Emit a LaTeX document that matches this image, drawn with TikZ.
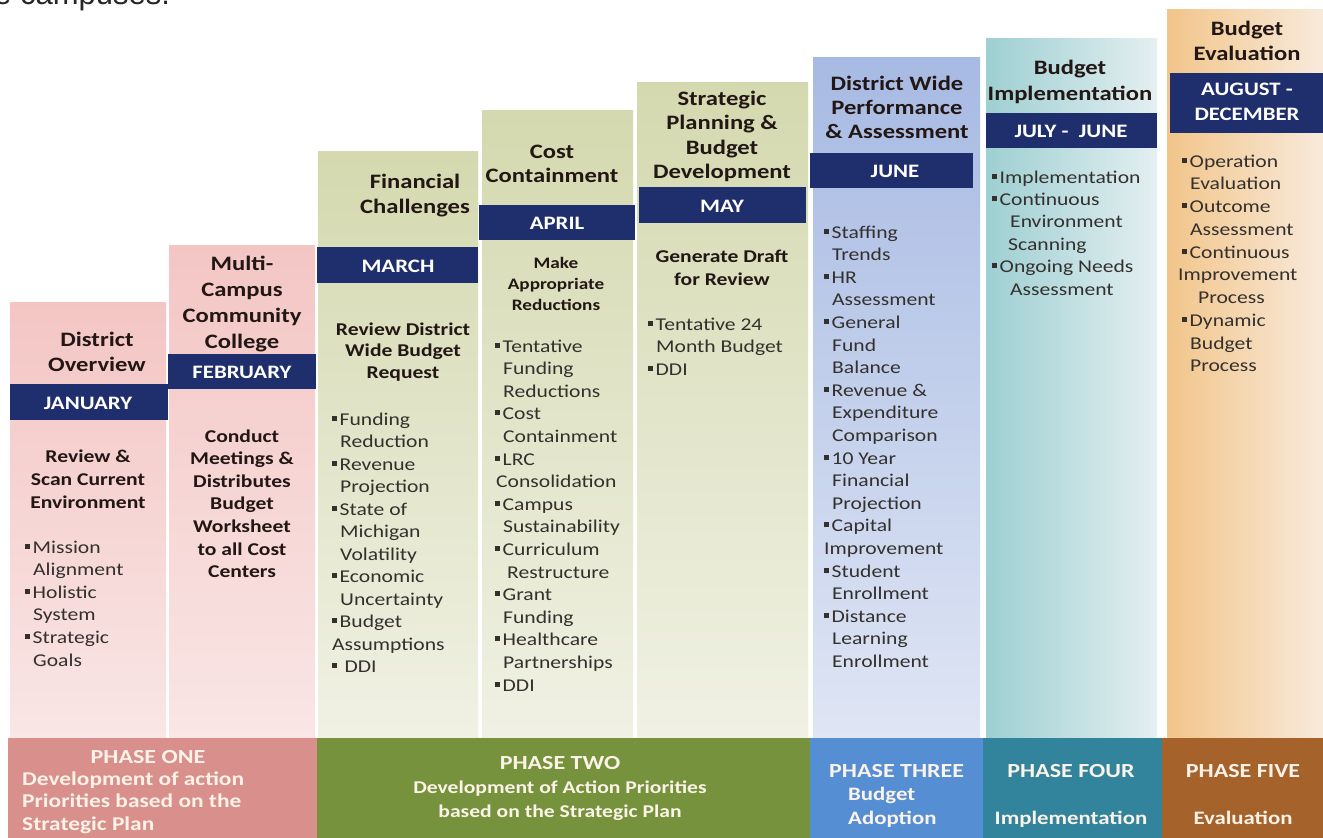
\documentclass[tikz,border=0pt]{standalone}
\usepackage{fontspec}
\setmainfont{Carlito}[FakeStretch=1.2]
\newfontfamily\fragfont{Liberation Sans}
\definecolor{navy}{HTML}{1F2E6C}
\definecolor{pinkT}{HTML}{F3C6C4}
\definecolor{pinkB}{HTML}{F9E6E5}
\definecolor{oliveT}{HTML}{D4D9AF}
\definecolor{oliveB}{HTML}{F0F1E4}
\definecolor{blueT}{HTML}{A7BAE3}
\definecolor{blueB}{HTML}{DFE5F4}
\definecolor{tealL}{HTML}{9ECFD2}
\definecolor{tealR}{HTML}{E4EFF1}
\definecolor{orgL}{HTML}{F2C58A}
\definecolor{orgR}{HTML}{F8EADB}
\definecolor{ph1}{HTML}{D98F8B}
\definecolor{ph2}{HTML}{77923C}
\definecolor{ph3}{HTML}{568ED4}
\definecolor{ph4}{HTML}{31849B}
\definecolor{ph5}{HTML}{A5622B}
\definecolor{hdrc}{HTML}{221714}
\definecolor{bodyc}{HTML}{33302D}
\definecolor{phtext}{HTML}{FBF3E8}
\newcommand\sqb{\rule[4.5pt]{5pt}{5pt}\hspace{2.5pt}}
\newcommand\ind{\hspace{8pt}}
\newcommand\txtlines[6]{\foreach \lineT [count=\lineN] in {#6}{\node[#1] (#2\lineN) at (#3,{#4+(\lineN-1)*#5}) {\lineT};}}
\tikzset{
  hdr/.style={font=\bfseries\fontsize{20.5}{25}\selectfont, text=hdrc, anchor=base, inner sep=0pt},
  mon/.style={font=\bfseries\fontsize{19}{23}\selectfont, text=white, anchor=base, inner sep=0pt},
  sub/.style={font=\bfseries\fontsize{18}{22}\selectfont, text=hdrc, anchor=base, inner sep=0pt},
  subsm/.style={font=\bfseries\fontsize{16}{20}\selectfont, text=hdrc, anchor=base, inner sep=0pt},
  bul/.style={font=\fontsize{18}{22}\selectfont, text=bodyc, anchor=base west, inner sep=0pt},
  ph/.style={font=\bfseries\fontsize{18}{22}\selectfont, text=phtext, anchor=base, inner sep=0pt},
  phh/.style={ph, font=\bfseries\fontsize{20}{24}\selectfont},
  phw/.style={ph, anchor=base west},
  monbar/.style={fill=navy, draw=none}
}
\begin{document}
\begin{tikzpicture}[x=1pt,y=-1pt]
\useasboundingbox (0,0) rectangle (1323,838);
\fill[white] (0,0) rectangle (1323,838);
% fragment of page text at top (cut by the top edge, as in the source)
\node[font=\fragfont\fontsize{31}{36}\selectfont, text=black!85, anchor=base west, inner sep=0pt] (frag) at (-6,4) {e campuses.};
% columns
\shade[top color=pinkT, bottom color=pinkB] (10,302) rectangle (166,738);
\shade[top color=pinkT, bottom color=pinkB] (169,245) rectangle (315,738);
\shade[top color=oliveT, bottom color=oliveB] (318,151) rectangle (478,738);
\shade[top color=oliveT, bottom color=oliveB] (482,110) rectangle (633,738);
\shade[top color=oliveT, bottom color=oliveB] (637,82) rectangle (808,738);
\shade[top color=blueT, bottom color=blueB] (813,57) rectangle (980,738);
\shade[left color=tealL, right color=tealR] (986,38) rectangle (1157,738);
\shade[left color=orgL, right color=orgR] (1167,9) rectangle (1323,738);
% month bars
\fill[monbar] (10,384) rectangle (168,420);
\fill[monbar] (168,354) rectangle (316,389);
\fill[monbar] (317,247) rectangle (478,283);
\fill[monbar] (479,205) rectangle (635,240);
\fill[monbar] (639,187) rectangle (806,223);
\fill[monbar] (810,153) rectangle (973,188);
\fill[monbar] (986,113) rectangle (1157,148);
\fill[monbar] (1170,73) rectangle (1323,133);
% phase bars
\fill[ph1] (8,738) rectangle (317,838);
\fill[ph2] (317,738) rectangle (810,838);
\fill[ph3] (810,738) rectangle (983,838);
\fill[ph4] (983,738) rectangle (1162,838);
\fill[ph5] (1162,738) rectangle (1323,838);

% ---- Column 1: January
\txtlines{hdr}{h1-}{97}{346}{25}{District,Overview}
\node[mon] (m1) at (88,409) {JANUARY};
\txtlines{sub}{s1-}{88}{462}{23}{Review \&,Scan Current,Environment}
\txtlines{bul}{b1-}{25}{553}{22.6}{\sqb Mission,\ind Alignment,\sqb Holistic,\ind System,\sqb Strategic,\ind Goals}

% ---- Column 2: February
\txtlines{hdr}{h2-}{242}{270}{26}{Multi-,Campus,Community,College}
\node[mon] (m2) at (242,378) {FEBRUARY};
\txtlines{sub}{s2-}{242}{442}{22.6}{Conduct,Meetings \&,Distributes,Budget,Worksheet,to all Cost,Centers}

% ---- Column 3: March
\txtlines{hdr}{h3-}{415}{188}{25}{Financial,Challenges}
\node[mon] (m3) at (398,272) {MARCH};
\txtlines{sub}{s3-}{403}{335}{21.5}{Review District,Wide Budget,Request}
\txtlines{bul}{b3-}{332}{425}{22.5}{\sqb Funding,\ind Reduction,\sqb Revenue,\ind Projection,\sqb State of,\ind Michigan,\ind Volatility,\sqb Economic,\ind Uncertainty,\sqb Budget,Assumptions,\sqb\ DDI}

% ---- Column 4: April
\txtlines{hdr}{h4-}{552}{158}{24}{Cost,Containment}
\node[mon] (m4) at (557,229) {APRIL};
\txtlines{subsm}{s4-}{556}{268}{21}{Make,Appropriate,Reductions}
\txtlines{bul}{b4-}{495}{352}{22.6}{\sqb Tentative,\ind Funding,\ind Reductions,\sqb Cost,\ind Containment,\sqb LRC,\hspace{1pt}Consolidation,\sqb Campus,\ind Sustainability,\sqb Curriculum,\hspace{12pt}Restructure,\sqb Grant,\ind Funding,\sqb Healthcare,\ind Partnerships,\sqb DDI}

% ---- Column 5: May
\txtlines{hdr}{h5-}{722}{105}{24.5}{Strategic,Planning \&,Budget,Development}
\node[mon] (m5) at (722,212) {MAY};
\txtlines{sub}{s5-}{722}{262}{23}{Generate Draft,for Review}
\txtlines{bul}{b5-}{648}{330}{22.6}{\sqb Tentative 24,\ind Month Budget,\sqb DDI}

% ---- Column 6: June
\txtlines{hdr}{h6-}{897}{90}{24}{District Wide,Performance,\& Assessment}
\node[mon] (m6) at (895,177) {JUNE};
\txtlines{bul}{b6-}{824}{238}{22.6}{\sqb Staffing,\ind Trends,\sqb HR,\ind Assessment,\sqb General,\ind Fund,\ind Balance,\sqb Revenue \&,\ind Expenditure,\ind Comparison,\sqb 10 Year,\ind Financial,\ind Projection,\sqb Capital,Improvement,\sqb Student,\ind Enrollment,\sqb Distance,\ind Learning,\ind Enrollment}

% ---- Column 7: July - June
\txtlines{hdr}{h7-}{1070}{74}{26}{Budget,Implementation}
\node[mon] (m7) at (1071,137) {JULY -\ \ JUNE};
\txtlines{bul}{b7-}{992}{183}{22.4}{\sqb Implementation,\sqb Continuous,\hspace{18pt}Environment,\hspace{16pt}Scanning,\sqb Ongoing Needs,\hspace{18pt}Assessment}

% ---- Column 8: August - December
\txtlines{hdr}{h8-}{1247}{35}{25}{Budget,Evaluation}
\txtlines{mon}{m8-}{1247}{95}{25}{AUGUST -,DECEMBER}
\txtlines{bul}{b8-}{1182}{167}{22.75}{\sqb Operation,\ind Evaluation,\sqb Outcome,\ind Assessment,\sqb Continuous,\hspace{-4pt}Improvement,\hspace{16pt}Process,\sqb Dynamic,\ind Budget,\ind Process}

% ---- Phases
\node[phh] (p1a) at (148,763) {PHASE ONE};
\txtlines{phw, font=\bfseries\fontsize{19.5}{23}\selectfont}{p1-}{22}{785}{22.5}{Development of action,Priorities based on the,Strategic Plan}
\node[phh] (p2a) at (560,769) {PHASE TWO};
\txtlines{ph}{p2-}{560}{793}{24}{Development of Action Priorities,based on the Strategic Plan}
\node[phh, anchor=base west] (p3a) at (829,777) {PHASE THREE};
\txtlines{phw, font=\bfseries\fontsize{19}{23}\selectfont}{p3-}{848}{800}{24}{Budget,Adoption}
\node[phh] (p4a) at (1071,777) {PHASE FOUR};
\node[ph, font=\bfseries\fontsize{19}{23}\selectfont] (p4b) at (1071,824) {Implementation};
\node[phh] (p5a) at (1243,777) {PHASE FIVE};
\node[ph, font=\bfseries\fontsize{19}{23}\selectfont] (p5b) at (1243,824) {Evaluation};
\end{tikzpicture}
\end{document}
